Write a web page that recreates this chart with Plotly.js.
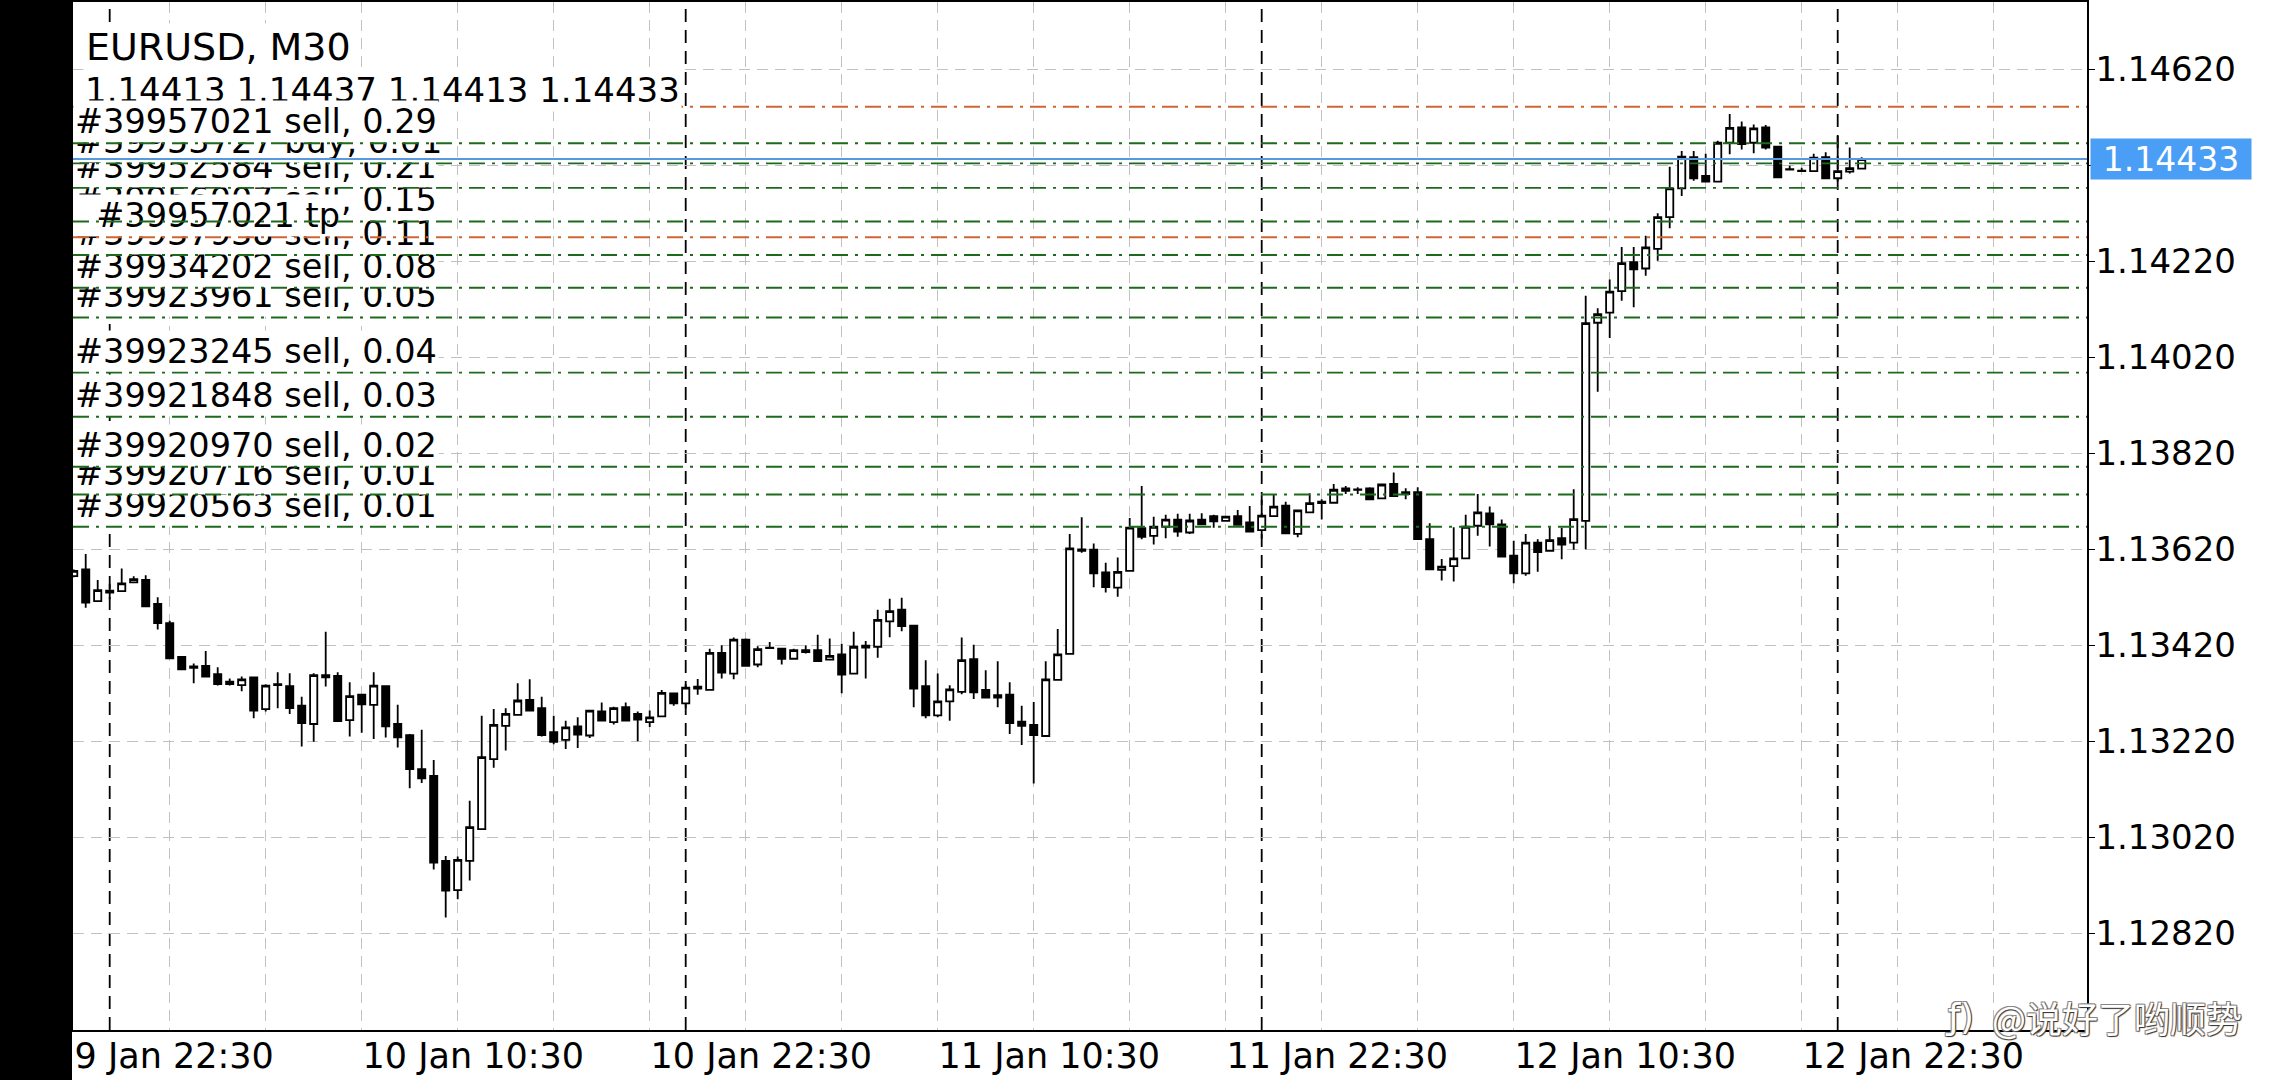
<!DOCTYPE html>
<html><head><meta charset="utf-8">
<script src="https://cdn.plot.ly/plotly-3.0.1.min.js"></script>
<style>
html,body{margin:0;padding:0;background:#fff;overflow:hidden;}
#wrap{position:relative;width:2280px;height:1080px;}
#chart,#lines{position:absolute;left:0;top:0;width:2280px;height:1080px;}
#lines{pointer-events:none;}
</style></head><body>
<div id="wrap"><div id="chart"></div><div id="lines"></div></div>
<script>
// ---------- data ----------
const symbolTitle = 'EURUSD, M30';
const startTime = '2022-01-09T22:30:00Z';   // first M30 bar
const candleOpen = [1.13564,1.13578,1.13512,1.13534,1.13533,1.13551,1.13556,1.13506,1.13466,1.13396,
1.13376,1.13377,1.13360,1.13344,1.13337,1.13353,1.13287,1.13337,1.13335,1.13294,
1.13256,1.13358,1.13356,1.13264,1.13317,1.13296,1.13335,1.13256,1.13233,1.13162,
1.13148,1.12971,1.12910,1.12971,1.13037,1.13183,1.13252,1.13275,1.13306,1.13289,
1.13239,1.13223,1.13251,1.13232,1.13282,1.13260,1.13291,1.13277,1.13260,1.13272,
1.13320,1.13299,1.13334,1.13327,1.13404,1.13361,1.13432,1.13380,1.13415,1.13413,
1.13392,1.13410,1.13410,1.13390,1.13401,1.13361,1.13419,1.13417,1.13470,1.13494,
1.13461,1.13335,1.13274,1.13303,1.13323,1.13391,1.13327,1.13316,1.13317,1.13261,
1.13254,1.13231,1.13348,1.13402,1.13620,1.13619,1.13572,1.13540,1.13575,1.13664,
1.13648,1.13667,1.13682,1.13655,1.13682,1.13689,1.13679,1.13689,1.13676,1.13660,
1.13689,1.13711,1.13652,1.13697,1.13719,1.13717,1.13747,1.13745,1.13747,1.13726,
1.13756,1.13739,1.13739,1.13641,1.13577,1.13585,1.13601,1.13669,1.13695,1.13672,
1.13607,1.13570,1.13634,1.13617,1.13643,1.13634,1.13679,1.14092,1.14113,1.14158,
1.14218,1.14205,1.14246,1.14312,1.14372,1.14437,1.14398,1.14386,1.14467,1.14499,
1.14467,1.14499,1.14459,1.14412,1.14409,1.14408,1.14437,1.14393,1.14407,1.14413];
const candleHigh = [1.13578,1.13610,1.13556,1.13548,1.13580,1.13564,1.13566,1.13520,1.13471,1.13396,
1.13382,1.13408,1.13374,1.13351,1.13355,1.13355,1.13339,1.13364,1.13362,1.13313,
1.13362,1.13448,1.13364,1.13343,1.13317,1.13364,1.13335,1.13296,1.13235,1.13244,
1.13181,1.12981,1.12980,1.13096,1.13273,1.13287,1.13289,1.13341,1.13349,1.13313,
1.13273,1.13263,1.13270,1.13285,1.13301,1.13292,1.13301,1.13282,1.13284,1.13327,
1.13321,1.13339,1.13350,1.13413,1.13420,1.13436,1.13434,1.13418,1.13427,1.13414,
1.13413,1.13420,1.13442,1.13434,1.13423,1.13448,1.13429,1.13494,1.13517,1.13519,
1.13461,1.13389,1.13361,1.13337,1.13436,1.13421,1.13368,1.13387,1.13343,1.13294,
1.13302,1.13387,1.13454,1.13652,1.13687,1.13632,1.13592,1.13603,1.13685,1.13752,
1.13688,1.13692,1.13694,1.13694,1.13695,1.13692,1.13688,1.13702,1.13710,1.13723,
1.13735,1.13719,1.13701,1.13737,1.13724,1.13756,1.13752,1.13749,1.13749,1.13755,
1.13780,1.13747,1.13749,1.13674,1.13600,1.13666,1.13692,1.13735,1.13709,1.13682,
1.13638,1.13652,1.13641,1.13666,1.13665,1.13745,1.14148,1.14122,1.14182,1.14250,
1.14250,1.14273,1.14320,1.14417,1.14450,1.14450,1.14444,1.14471,1.14527,1.14511,
1.14505,1.14504,1.14459,1.14419,1.14415,1.14444,1.14447,1.14481,1.14457,1.14437];
const candleLow = [1.13562,1.13498,1.13511,1.13516,1.13532,1.13551,1.13501,1.13453,1.13392,1.13370,
1.13341,1.13355,1.13336,1.13336,1.13324,1.13268,1.13282,1.13289,1.13277,1.13209,
1.13219,1.13334,1.13261,1.13230,1.13238,1.13225,1.13228,1.13207,1.13122,1.13133,
1.12953,1.12853,1.12891,1.12930,1.13037,1.13165,1.13201,1.13275,1.13284,1.13230,
1.13214,1.13204,1.13206,1.13227,1.13262,1.13255,1.13262,1.13220,1.13250,1.13271,
1.13294,1.13289,1.13317,1.13326,1.13351,1.13349,1.13376,1.13374,1.13413,1.13380,
1.13390,1.13403,1.13386,1.13389,1.13320,1.13359,1.13351,1.13394,1.13437,1.13449,
1.13291,1.13268,1.13270,1.13263,1.13318,1.13308,1.13310,1.13291,1.13235,1.13212,
1.13132,1.13231,1.13348,1.13402,1.13613,1.13541,1.13530,1.13521,1.13574,1.13641,
1.13630,1.13643,1.13646,1.13652,1.13671,1.13665,1.13679,1.13669,1.13657,1.13642,
1.13688,1.13653,1.13645,1.13697,1.13682,1.13716,1.13735,1.13735,1.13724,1.13726,
1.13730,1.13724,1.13641,1.13577,1.13555,1.13553,1.13600,1.13648,1.13626,1.13603,
1.13549,1.13565,1.13573,1.13616,1.13599,1.13619,1.13620,1.13948,1.14060,1.14138,
1.14124,1.14190,1.14221,1.14289,1.14356,1.14388,1.14386,1.14386,1.14443,1.14453,
1.14445,1.14453,1.14395,1.14410,1.14407,1.14408,1.14392,1.14386,1.14403,1.14413];
const candleClose = [1.13575,1.13509,1.13535,1.13530,1.13549,1.13558,1.13501,1.13466,1.13393,1.13370,
1.13373,1.13355,1.13339,1.13339,1.13349,1.13284,1.13336,1.13339,1.13289,1.13258,
1.13358,1.13353,1.13262,1.13314,1.13297,1.13336,1.13251,1.13228,1.13162,1.13143,
1.12967,1.12909,1.12973,1.13041,1.13187,1.13254,1.13277,1.13305,1.13284,1.13233,
1.13219,1.13249,1.13234,1.13284,1.13263,1.13289,1.13263,1.13265,1.13270,1.13321,
1.13299,1.13332,1.13330,1.13404,1.13363,1.13432,1.13377,1.13412,1.13414,1.13392,
1.13410,1.13406,1.13387,1.13398,1.13359,1.13417,1.13415,1.13473,1.13491,1.13460,
1.13330,1.13274,1.13303,1.13328,1.13389,1.13322,1.13311,1.13311,1.13258,1.13252,
1.13233,1.13349,1.13401,1.13622,1.13617,1.13570,1.13541,1.13573,1.13665,1.13646,
1.13667,1.13682,1.13657,1.13680,1.13672,1.13678,1.13688,1.13671,1.13657,1.13690,
1.13709,1.13653,1.13701,1.13716,1.13716,1.13744,1.13742,1.13744,1.13724,1.13755,
1.13731,1.13735,1.13641,1.13578,1.13584,1.13601,1.13667,1.13697,1.13672,1.13605,
1.13570,1.13634,1.13614,1.13639,1.13630,1.13683,1.14091,1.14110,1.14157,1.14216,
1.14203,1.14249,1.14312,1.14372,1.14438,1.14393,1.14386,1.14467,1.14498,1.14464,
1.14497,1.14457,1.14395,1.14411,1.14408,1.14436,1.14393,1.14408,1.14414,1.14433];

const priceTicks = [1.12820,1.13020,1.13220,1.13420,1.13620,1.13820,1.14020,1.14220,1.14420,1.14620];
const priceTickText = ['1.12820','1.13020','1.13220','1.13420','1.13620','1.13820','1.14020','1.14220','','1.14620'];
const daySeparators = ['2022-01-10 00:00','2022-01-11 00:00','2022-01-12 00:00','2022-01-13 00:00'];

const orderPrices = [1.14466,1.14424,1.14373,1.14303,1.14233,1.14165,1.14103,1.13988,1.13896,1.13792,1.13734,1.13667];
const orderLabels = ['#39957021 sell, 0.29','#39953727 buy, 0.01','#39952584 sell, 0.21','#39956007 sell, 0.15',
 '#39937938 sell, 0.11','#39934202 sell, 0.08','#39923961 sell, 0.05','#39923245 sell, 0.04',
 '#39921848 sell, 0.03','#39920970 sell, 0.02','#39920716 sell, 0.01','#39920563 sell, 0.01'];
const tpPrice = 1.14270, tpLabel = '#39957021 tp';
const slPrice = 1.14542;
const bidPrice = 1.14433;
const watermark = '@说好了哟顺势';

// ---------- layout constants ----------
const W = 2280, H = 1080;
const M = {l:73, r:193, t:2, b:50, pad:0};
const PW = W - M.l - M.r, PH = H - M.t - M.b;
const yRange = [1.126185, 1.147602];
const xRange = ['2022-01-09 22:28:15', '2022-01-13 10:23:15'];
const FONT = 'DejaVu Sans';
const GREEN = '#1d6a1d', ORANGE = '#cf6534', BLUE = '#5898e0';
const GRID = '#c2c2c2', GRIDDASH = '11px,7px';
const ORDERDASH = '16px,7px,3px,7px';
const WMSHADOW = '1px 1px 1px #333, -1px -1px 0 #888, 1px -1px 0 #888, -1px 1px 0 #888';

function fmt(d){const p=n=>String(n).padStart(2,'0');
  return d.getUTCFullYear()+'-'+p(d.getUTCMonth()+1)+'-'+p(d.getUTCDate())+' '+p(d.getUTCHours())+':'+p(d.getUTCMinutes());}
const t0 = Date.parse(startTime);
const times = candleOpen.map((_, i) => fmt(new Date(t0 + i * 30 * 60000)));

const trace = {
  type:'candlestick', x: times, open: candleOpen, high: candleHigh, low: candleLow, close: candleClose,
  increasing:{line:{color:'#000', width:1.8}, fillcolor:'#fff'},
  decreasing:{line:{color:'#000', width:1.8}, fillcolor:'#000'},
  whiskerwidth:0, hoverinfo:'skip', showlegend:false
};

const shapes = [];
daySeparators.forEach(d => shapes.push({type:'line', xref:'x', yref:'paper', x0:d, x1:d, y0:0, y1:1,
  line:{color:'#000', width:1.8, dash:'13px,8px'}, layer:'below'}));
shapes.push({type:'line', xref:'paper', yref:'y', x0:0, x1:1, y0:slPrice, y1:slPrice,
  line:{color:ORANGE, width:1.9, dash:ORDERDASH}, layer:'above'});
// black band at the left edge of the screen
shapes.push({type:'rect', xref:'paper', yref:'paper', x0:-M.l/PW, x1:-1/PW, y0:-M.b/PH, y1:1+M.t/PH,
  fillcolor:'#000', line:{width:0}, layer:'above'});

const ann = [];
ann.push({xref:'paper', yref:'paper', x:0, y:1, xanchor:'left', yanchor:'top', xshift:11, yshift:-21,
  text:symbolTitle, showarrow:false, bgcolor:'#fff', borderpad:1, font:{family:FONT, size:38, color:'#000'}});
const last = candleOpen.length - 1;
const ohlcText = [candleOpen[last], candleHigh[last], candleLow[last], candleClose[last]].map(v => v.toFixed(5)).join(' ');
ann.push({xref:'paper', yref:'paper', x:0, y:1, xanchor:'left', yanchor:'top', xshift:10, yshift:-66,
  text:ohlcText, showarrow:false, bgcolor:'#fff', borderpad:1, font:{family:FONT, size:34, color:'#000'}});
for (let k = orderPrices.length - 1; k >= 0; k--) {
  ann.push({xref:'paper', yref:'y', x:0, y:orderPrices[k], xanchor:'left', yanchor:'bottom',
    text:orderLabels[k], showarrow:false, bgcolor:'#fff', borderpad:1, font:{family:FONT, size:33.5, color:'#000'}});
}
ann.push({xref:'paper', yref:'y', x:0, y:tpPrice, xanchor:'left', yanchor:'bottom',
  text:'\u00a0\u00a0' + tpLabel, showarrow:false, bgcolor:'#fff', borderpad:1, font:{family:FONT, size:33.5, color:'#000'}});
// current bid label on the price scale
ann.push({xref:'paper', yref:'y', x:1, y:bidPrice, xanchor:'left', yanchor:'middle', xshift:3,
  text:bidPrice.toFixed(5), showarrow:false, bgcolor:'#4a9ef5', borderpad:0, width:160, height:40, align:'center',
  font:{family:FONT, size:33, color:'#fff'}});
// watermark
ann.push({xref:'paper', yref:'paper', x:(1943 - M.l)/PW, y:0.0126, xanchor:'left', yanchor:'middle',
  text:'ƒ)', showarrow:false, font:{family:FONT, size:35, color:'#fff', shadow:WMSHADOW}});
ann.push({xref:'paper', yref:'paper', x:(1990 - M.l)/PW, y:0.0126, xanchor:'left', yanchor:'middle',
  text:watermark, showarrow:false, font:{family:'Noto Sans CJK SC', size:36, color:'#fff', shadow:WMSHADOW}});

const layout = {
  width:W, height:H, margin:M, paper_bgcolor:'#fff', plot_bgcolor:'#fff', showlegend:false,
  boxgap:0.4, boxgroupgap:0,
  xaxis:{type:'date', range:xRange, rangeslider:{visible:false}, fixedrange:true,
    tickmode:'linear', tick0:'2022-01-09 22:30', dtick:12*3600*1000, tickformat:'%-d %b %H:%M',
    ticklabelposition:'outside right', ticklabelstandoff:-6, ticks:'', showgrid:true, gridcolor:GRID, griddash:GRIDDASH, gridwidth:1.3,
    minor:{tickmode:'linear', tick0:'2022-01-09 22:30', dtick:4*3600*1000, showgrid:true, gridcolor:GRID, griddash:GRIDDASH, gridwidth:1.3, ticks:''},
    showline:true, mirror:true, linecolor:'#000', linewidth:1.6, zeroline:false,
    tickfont:{family:FONT, size:35, color:'#000'}},
  yaxis:{side:'right', range:yRange, fixedrange:true, tickmode:'array', tickvals:priceTicks, ticktext:priceTickText,
    ticks:'outside', ticklen:6, tickwidth:1.3, tickcolor:'#000', ticklabelstandoff:-6,
    showgrid:true, gridcolor:GRID, griddash:GRIDDASH, gridwidth:1.3, zeroline:false,
    showline:true, mirror:true, linecolor:'#000', linewidth:1.6,
    tickfont:{family:FONT, size:34, color:'#000'}},
  shapes:shapes, annotations:ann
};
Plotly.newPlot('chart', [trace], layout, {staticPlot:true, displayModeBar:false});

// top layer: order lines drawn over the labels, as the terminal does
const lineShapes = [];
orderPrices.forEach(p => lineShapes.push({type:'line', xref:'paper', yref:'y', x0:0, x1:1, y0:p, y1:p,
  line:{color:GREEN, width:1.9, dash:ORDERDASH}}));
lineShapes.push({type:'line', xref:'paper', yref:'y', x0:0, x1:1, y0:tpPrice, y1:tpPrice,
  line:{color:ORANGE, width:1.9, dash:ORDERDASH}});
lineShapes.push({type:'line', xref:'paper', yref:'y', x0:0, x1:1, y0:bidPrice, y1:bidPrice,
  line:{color:BLUE, width:2}});
Plotly.newPlot('lines', [], {
  width:W, height:H, margin:M, paper_bgcolor:'rgba(0,0,0,0)', plot_bgcolor:'rgba(0,0,0,0)', showlegend:false,
  xaxis:{visible:false, range:[0,1], fixedrange:true}, yaxis:{visible:false, range:yRange, fixedrange:true},
  shapes:lineShapes
}, {staticPlot:true, displayModeBar:false});
</script>
</body></html>
